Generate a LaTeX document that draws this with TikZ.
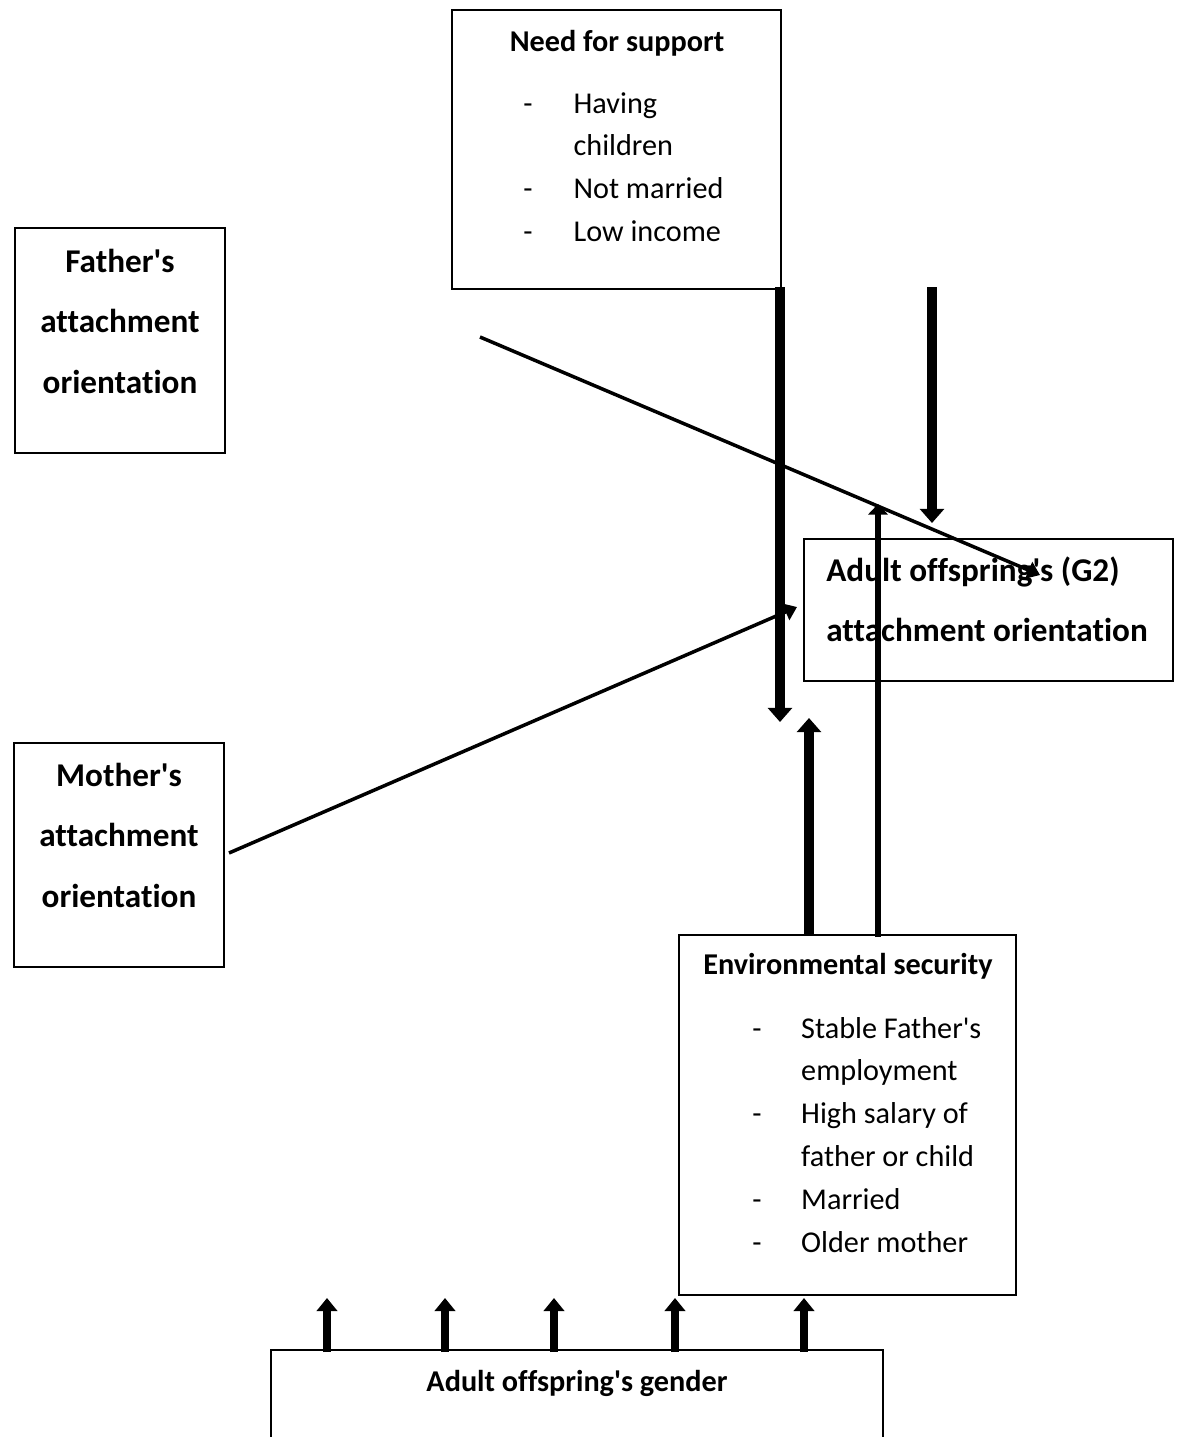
\documentclass[tikz,border=0pt]{standalone}
\usepackage{fontspec}
\setmainfont{Carlito}[Ligatures={TeXOff,NoCommon}]
\usetikzlibrary{arrows.meta}

\begin{document}
\begin{tikzpicture}[x=0.02cm,y=-0.02cm]
\tikzset{>={Triangle[width=13.5pt,length=8pt]}}
\tikzstyle{box}=[draw,line width=0.9pt,inner sep=0pt]
\tikzstyle{head}=[font=\fontsize{18.9}{34.4}\selectfont\bfseries,inner sep=0pt]
\tikzstyle{title}=[font=\fontsize{17.2}{24.4}\selectfont\bfseries,inner sep=0pt]
\tikzstyle{items}=[font=\fontsize{17.2}{24.4}\selectfont,inner sep=0pt]

\useasboundingbox (0,0) rectangle (1178,1437);
\clip (0,0) rectangle (1178,1437);

% boxes
\node[box,minimum width=6.58cm,minimum height=5.58cm](need) at (616.5,149.5){};
\node[box,minimum width=4.2cm,minimum height=4.5cm](father) at (120,340.5){};
\node[box,minimum width=4.2cm,minimum height=4.48cm](mother) at (119,855){};
\node[box,minimum width=7.38cm,minimum height=2.84cm](offspring) at (988.5,610){};
\node[box,minimum width=6.74cm,minimum height=7.2cm](envsec) at (847.5,1115){};
\node[box,minimum width=12.24cm,minimum height=2.6cm](gender) at (577,1415){};

% texts
\node[title,anchor=base](needtitle) at (617,51){Need for support};
\node[items,anchor=base west](needlist) at (523,113){\begin{tabular}[t]{@{}p{28.6pt}@{}l@{}}
- & Having\\ & children\\ - & Not married\\ - & Low income\end{tabular}};
\node[head,anchor=base](fathertxt) at (120,272.5){\begin{tabular}[t]{@{}c@{}}Father's\\attachment\\orientation\end{tabular}};
\node[head,anchor=base](mothertxt) at (119,786.5){\begin{tabular}[t]{@{}c@{}}Mother's\\attachment\\orientation\end{tabular}};
\node[head,anchor=base west](offspringtxt) at (826,581){\begin{tabular}[t]{@{}l@{}}Adult offspring's (G2)\\attachment orientation\end{tabular}};
\node[title,anchor=base](envtitle) at (848,974){Environmental security};
\node[items,anchor=base west](envlist) at (752,1038){\begin{tabular}[t]{@{}p{27.8pt}@{}l@{}}
- & Stable Father's\\ & employment\\ - & High salary of\\ & father or child\\ - & Married\\ - & Older mother\end{tabular}};
\node[title,anchor=base](gendertitle) at (577,1391){Adult offspring's gender};

% arrow ends
\coordinate (n1) at (780,287);
\coordinate (t1) at (780,722);
\coordinate (n2) at (932,287);
\coordinate (t2) at (932,523);
\coordinate (f1) at (480,337);
\coordinate (f2) at (1040,575);
\coordinate (m1) at (229,853);
\coordinate (m2) at (797,607);
\coordinate (e1) at (809,935);
\coordinate (s1) at (809,718);
\coordinate (e2) at (878,937);
\coordinate (s2) at (878,504);
\coordinate (g1) at (327,1352);
\coordinate (h1) at (327,1298);
\coordinate (g2) at (445,1352);
\coordinate (h2) at (445,1298);
\coordinate (g3) at (554,1352);
\coordinate (h3) at (554,1298);
\coordinate (g4) at (675,1352);
\coordinate (h4) at (675,1298);
\coordinate (g5) at (804,1352);
\coordinate (h5) at (804,1298);

% arrows
\draw [->,line width=5.4pt] (n1) to (t1);
\draw [->,line width=5.8pt] (n2) to (t2);
\draw [->,line width=5.6pt] (e1) to (s1);
\draw [-{Triangle[width=11pt,length=6pt]},line width=3.1pt] (e2) to (s2);
\draw [-{Triangle[width=10pt,length=7pt]},line width=2pt] (f1) to (f2);
\draw [-{Triangle[width=10pt,length=7pt]},line width=2pt] (m1) to (m2);

\draw [-{Triangle[width=11.5pt,length=7.4pt]},line width=4.4pt] (g1) to (h1);
\draw [-{Triangle[width=11.5pt,length=7.4pt]},line width=4.4pt] (g2) to (h2);
\draw [-{Triangle[width=11.5pt,length=7.4pt]},line width=4.4pt] (g3) to (h3);
\draw [-{Triangle[width=11.5pt,length=7.4pt]},line width=4.4pt] (g4) to (h4);
\draw [-{Triangle[width=11.5pt,length=7.4pt]},line width=4.4pt] (g5) to (h5);
\end{tikzpicture}
\end{document}
